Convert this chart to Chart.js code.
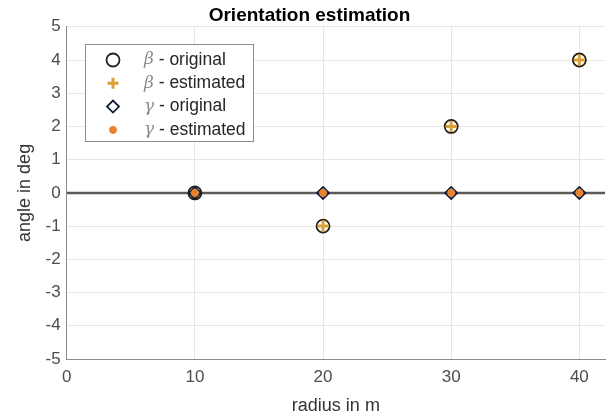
<!DOCTYPE html>
<html>
<head>
<meta charset="utf-8">
<script src="https://cdn.jsdelivr.net/npm/chart.js@4"></script>
<style>
  html, body { margin: 0; padding: 0; background: #fff; }
  #wrap { width: 606px; height: 417px; }
</style>
</head>
<body>
<div id="wrap"><canvas id="orientChart" width="606" height="417"></canvas></div>
<script>
// values
const radius = [10, 20, 30, 40];
const betaOriginal = [0, -1, 2, 4];
const betaEstimated = [0, -1, 2, 4];
const gammaOriginal = [0, 0, 0, 0];
const gammaEstimated = [0, 0, 0, 0];
const zeroLineX = [0, 42];
const zeroLineY = [0, 0];
const xTicks = [0, 10, 20, 30, 40];

function toPoints(xs, ys) {
    return xs.map((x, i) => ({ x: x, y: ys[i] }));
}

const sansFont = '"Liberation Sans", Arial, sans-serif';

// legend entries: greek letter in italic serif, then the rest
const legendRows = [
    { greek: 'β', text: ' - original', ds: 0 },
    { greek: 'β', text: ' - estimated', ds: 1 },
    { greek: 'γ', text: ' - original', ds: 2 },
    { greek: 'γ', text: ' - estimated', ds: 3 }
];

function drawMarker(ctx, ds, x, y) {
    ctx.save();
    ctx.fillStyle = ds.pointBackgroundColor;
    ctx.strokeStyle = ds.pointBorderColor;
    ctx.lineWidth = ds.pointBorderWidth;
    Chart.helpers.drawPoint(ctx, {
        pointStyle: ds.pointStyle,
        radius: ds.pointRadius,
        borderWidth: ds.pointBorderWidth
    }, x, y);
    ctx.restore();
}

// draw a MATLAB style legend box inside the plot
const boxLegend = {
    id: 'boxLegend',
    afterDraw(chart) {
        const ctx = chart.ctx;
        const left = 85, top = 44, w = 168, h = 97;
        ctx.save();
        ctx.fillStyle = '#fff';
        ctx.fillRect(left, top, w, h);
        ctx.strokeStyle = '#8c8c8c';
        ctx.lineWidth = 1;
        ctx.strokeRect(left + 0.5, top + 0.5, w, h);
        legendRows.forEach((row, i) => {
            const y = 60 + i * 23.3;
            const ds = chart.data.datasets[row.ds];
            drawMarker(ctx, ds, 113, y);
            ctx.font = 'italic 17px "DejaVu Serif", serif';
            ctx.fillStyle = '#8a8a8a';
            ctx.textBaseline = 'middle';
            ctx.textAlign = 'left';
            ctx.fillText(row.greek, 144, y);
            const gw = ctx.measureText(row.greek).width;
            ctx.font = '17.5px ' + sansFont;
            ctx.fillStyle = '#262626';
            ctx.fillText(row.text, 144 + gw, y);
        });
        ctx.restore();
    }
};

const ctx = document.getElementById('orientChart').getContext('2d');
new Chart(ctx, {
    type: 'scatter',
    data: {
        datasets: [
            {
                label: 'β - original',
                data: toPoints(radius, betaOriginal),
                pointStyle: 'circle',
                pointRadius: 6.5,
                pointBorderWidth: 1.8,
                pointBorderColor: '#2a2116',
                pointBackgroundColor: 'rgba(0,0,0,0)',
                order: 4
            },
            {
                label: 'β - estimated',
                data: toPoints(radius, betaEstimated),
                pointStyle: 'cross',
                pointRadius: 5.5,
                pointBorderWidth: 3,
                pointBorderColor: '#d9a13a',
                pointBackgroundColor: '#d9a13a',
                order: 3
            },
            {
                label: 'γ - original',
                data: toPoints(radius, gammaOriginal),
                pointStyle: 'rectRot',
                pointRadius: 6,
                pointBorderWidth: 1.8,
                pointBorderColor: '#0d1b35',
                pointBackgroundColor: 'rgba(0,0,0,0)',
                order: 2
            },
            {
                label: 'γ - estimated',
                data: toPoints(radius, gammaEstimated),
                pointStyle: 'circle',
                pointRadius: 3.5,
                pointBorderWidth: 1,
                pointBorderColor: '#e8822e',
                pointBackgroundColor: '#e8822e',
                order: 1
            },
            {
                label: 'zero',
                data: toPoints(zeroLineX, zeroLineY),
                showLine: true,
                borderColor: '#5a5a5a',
                borderWidth: 2.5,
                pointRadius: 0,
                order: 5
            }
        ]
    },
    options: {
        responsive: false,
        animation: false,
        layout: { autoPadding: false, padding: { left: 14, right: 1, top: 0, bottom: 0 } },
        plugins: {
            legend: { display: false },
            tooltip: { enabled: false },
            title: {
                display: true,
                text: 'Orientation estimation',
                color: '#000',
                font: { family: sansFont, size: 19, weight: 'bold' },
                padding: { top: 4, bottom: 0 }
            }
        },
        scales: {
            x: {
                type: 'linear',
                min: 0,
                max: 42,
                afterBuildTicks(scale) {
                    scale.ticks = xTicks.map(v => ({ value: v }));
                },
                afterFit(scale) {
                    // axis runs to the right edge like the original figure
                    scale.paddingRight = 0;
                },
                ticks: {
                    color: '#4d4d4d',
                    font: { family: sansFont, size: 17 },
                    padding: 8,
                    maxRotation: 0
                },
                grid: { color: '#e6e6e6', drawTicks: false },
                border: { color: '#8a8a8a', width: 1 },
                title: {
                    display: true,
                    text: 'radius in m',
                    color: '#333',
                    font: { family: sansFont, size: 18 },
                    padding: { top: 0, bottom: 0 }
                }
            },
            y: {
                type: 'linear',
                min: -5,
                max: 5,
                ticks: {
                    stepSize: 1,
                    color: '#4d4d4d',
                    font: { family: sansFont, size: 17 },
                    padding: 6
                },
                grid: { color: '#e6e6e6', drawTicks: false },
                border: { color: '#8a8a8a', width: 1 },
                title: {
                    display: true,
                    text: 'angle in deg',
                    color: '#333',
                    font: { family: sansFont, size: 18 },
                    padding: { top: 0, bottom: 4 }
                }
            }
        }
    },
    plugins: [boxLegend]
});
</script>
</body>
</html>
